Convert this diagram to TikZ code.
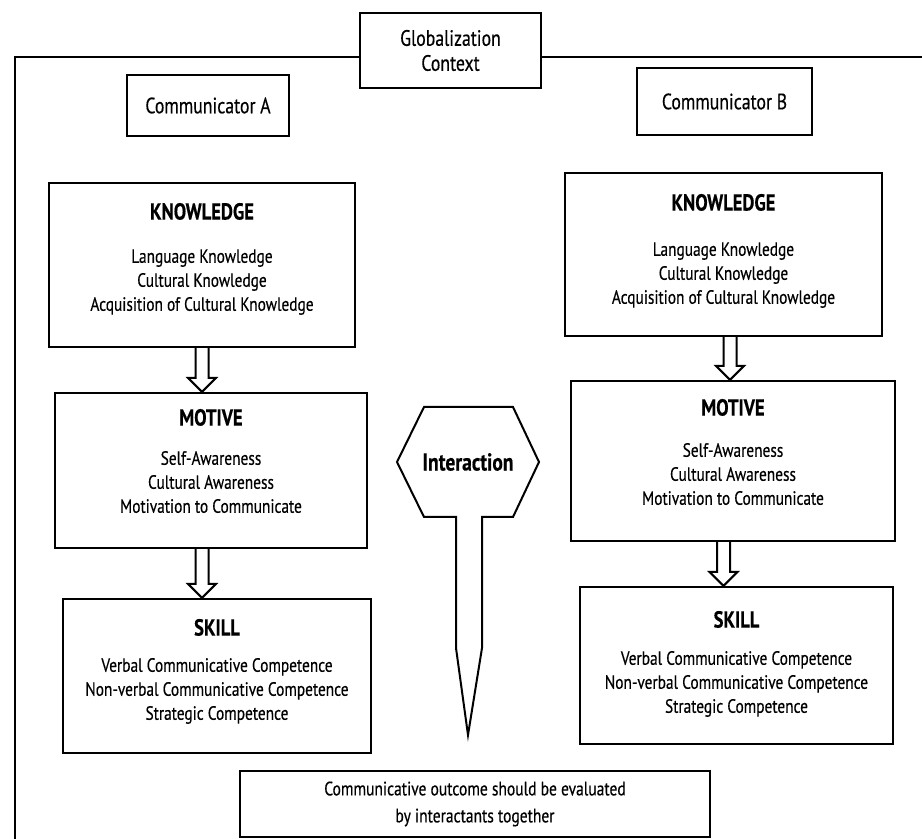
\documentclass[tikz,border=0pt]{standalone}
\usepackage{fontspec}
\setmainfont{PT Sans}[FakeStretch=0.8, FakeBold=0.4]
\usetikzlibrary{calc,positioning}
\newcommand{\boxtitle}[1]{{\fontsize{11.6}{14}\selectfont\bfseries #1}}
\tikzset{
	panel/.style={draw, line width=1.1pt, inner sep=0pt},
	txt/.style={align=center, inner sep=0pt, anchor=north, font=\fontsize{9.6}{12}\selectfont},
	fat/.style={draw, line width=1pt, to path={
		let \p1=(\tikztostart), \p2=(\tikztotarget) in
		(\x1-3.25pt,\y1) -- (\x1-3.25pt,\y2+7pt) -- (\x1-7pt,\y2+7pt) -- (\x1,\y2)
		-- (\x1+7pt,\y2+7pt) -- (\x1+3.25pt,\y2+7pt) -- (\x1+3.25pt,\y1)}},
	frame/.style={line width=0.8pt}
}
\begin{document}
\begin{tikzpicture}[x=0.5pt, y=-0.5pt]
	\useasboundingbox (0,0) rectangle (922,839);
	\coordinate (topL) at (15,57);
	\coordinate (botL) at (15,839);
	\coordinate (topR) at (922,57);

	\node[panel, minimum width=90.5pt, minimum height=37.5pt, align=center,
		font=\fontsize{11.1}{12.5}\selectfont] (gctx) at (450.5,50.5) {Globalization\\Context};
	\draw[frame] (botL) -- (topL) -- (topL -| gctx.west);
	\draw[frame] (gctx.east |- topR) -- (topR);

	\node[panel, minimum width=81pt, minimum height=30.5pt,
		font=\fontsize{11.1}{14}\selectfont] (commA) at (208,105.5) {Communicator A};
	\node[panel, minimum width=87.5pt, minimum height=33.5pt,
		font=\fontsize{11.1}{14}\selectfont] (commB) at (724.5,101.5) {Communicator B};

	% communicator A
	\node[panel, minimum width=153pt, minimum height=82pt] (kA) at (202,265) {};
	\node[panel, minimum width=156pt, minimum height=77.5pt] (mA) at (211,470.5) {};
	\node[panel, minimum width=154pt, minimum height=77pt] (sA) at (217,676) {};
	\node[txt, below=10.35pt of kA.north] (kAtxt) {\boxtitle{KNOWLEDGE}\\[9.6pt]
		Language Knowledge\\ Cultural Knowledge\\ Acquisition of Cultural Knowledge};
	\node[txt, below=8.35pt of mA.north] (mAtxt) {\boxtitle{MOTIVE}\\[7.6pt]
		Self-Awareness\\ Cultural Awareness\\ Motivation to Communicate};
	\node[txt, below=10.35pt of sA.north] (sAtxt) {\boxtitle{SKILL}\\[6.1pt]
		Verbal Communicative Competence\\ Non-verbal Communicative Competence\\ Strategic Competence};

	% communicator B
	\node[panel, minimum width=158.5pt, minimum height=81.5pt] (kB) at (723.5,254.5) {};
	\node[panel, minimum width=162pt, minimum height=80pt] (mB) at (733,461) {};
	\node[panel, minimum width=156.5pt, minimum height=78.5pt] (sB) at (736.5,665.5) {};
	\node[txt, below=10.85pt of kB.north] (kBtxt) {\boxtitle{KNOWLEDGE}\\[10.6pt]
		Language Knowledge\\ Cultural Knowledge\\ Acquisition of Cultural Knowledge};
	\node[txt, below=9.35pt of mB.north] (mBtxt) {\boxtitle{MOTIVE}\\[8.6pt]
		Self-Awareness\\ Cultural Awareness\\ Motivation to Communicate};
	\node[txt, below=12.35pt of sB.north] (sBtxt) {\boxtitle{SKILL}\\[6.6pt]
		Verbal Communicative Competence\\ Non-verbal Communicative Competence\\ Strategic Competence};

	\path (kA.south) edge[fat] (mA.north)
		(mA.south -| kA.south) edge[fat] (sA.north)
		([xshift=3.25pt]kB.south) edge[fat] (mB.north)
		(mB.south -| kB.south) edge[fat] (sB.north);

	% interaction marker
	\draw[line width=1pt] (397,462) -- (424,407) -- (513,407) -- (539,462) -- (513,517)
		-- (482,517) -- (482,648) -- (468,735) -- (456,648) -- (456,517) -- (424,517) -- cycle;
	\node[font=\fontsize{12.2}{14}\selectfont\bfseries] (inter) at (468,462) {Interaction};

	\node[panel, minimum width=235pt, minimum height=33pt, align=center,
		font=\fontsize{9.7}{13.5}\selectfont] (outc) at (475,804)
		{Communicative outcome should be evaluated\\by interactants together};
\end{tikzpicture}
\end{document}
